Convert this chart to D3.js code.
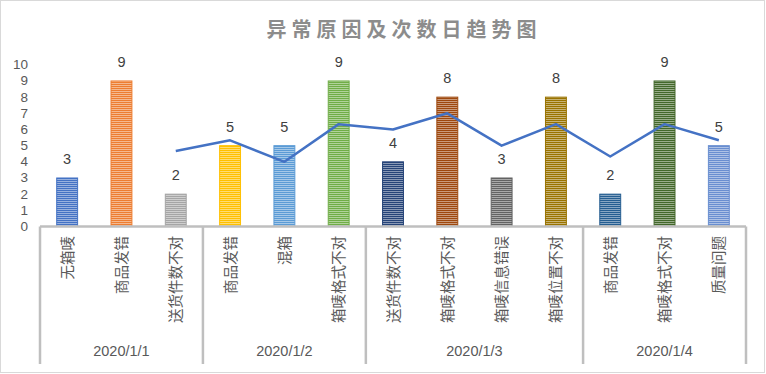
<!DOCTYPE html>
<html>
<head>
<meta charset="utf-8">
<script src="https://cdn.jsdelivr.net/npm/d3@7"></script>
<style>
  body { margin: 0; background: #fff; }
  svg { display: block; font-family: "Noto Sans CJK SC", "Noto Sans", sans-serif; }
</style>
</head>
<body>
<div class="chartContainer"></div>
<script>
// chart data
const dates = ["2020/1/1", "2020/1/2", "2020/1/3", "2020/1/4"];
const groupSizes = [3, 3, 4, 3];
const reasons = [
  "无箱唛", "商品发错", "送货件数不对",
  "商品发错", "混箱", "箱唛格式不对",
  "送货件数不对", "箱唛格式不对", "箱唛信息错误", "箱唛位置不对",
  "商品发错", "箱唛格式不对", "质量问题"
];
const counts = [3, 9, 2, 5, 5, 9, 4, 8, 3, 8, 2, 9, 5];
// trend line, starts at the third category
const trendStart = 2;
const trendValues = [4.67, 5.33, 4, 6.33, 6, 7, 5, 6.33, 4.33, 6.33, 5.33];
const yTicks = [0, 1, 2, 3, 4, 5, 6, 7, 8, 9, 10];
const barColors = [
  "#4472C4", "#ED7D31", "#A5A5A5", "#FFC000", "#5B9BD5", "#70AD47",
  "#264478", "#9E480E", "#636363", "#997300", "#255E91", "#43682B", "#698ED0"
];

const w = 766;
const h = 374;
const left = 40;
const right = 746;
const base = 226.5;

const svg = d3
  .select(".chartContainer")
  .append("svg")
  .attr("width", w)
  .attr("height", h);

svg
  .append("rect")
  .attr("x", 0.5)
  .attr("y", 0.5)
  .attr("width", w - 2)
  .attr("height", h - 2)
  .attr("fill", "#fff")
  .attr("stroke", "#d9d9d9");

// striped fills
const defs = svg.append("defs");
barColors.forEach((c, i) => {
  const p = defs
    .append("pattern")
    .attr("id", "stripe" + i)
    .attr("patternUnits", "userSpaceOnUse")
    .attr("width", 4)
    .attr("height", 2);
  p.append("rect").attr("width", 4).attr("height", 2).attr("fill", c);
  p.append("rect")
    .attr("y", 1)
    .attr("width", 4)
    .attr("height", 1)
    .attr("fill", d3.interpolateRgb(c, "#fff")(0.45));
});

svg
  .append("text")
  .attr("x", 404)
  .attr("y", 28)
  .attr("text-anchor", "middle")
  .attr("dominant-baseline", "central")
  .attr("fill", "#8c8c8c")
  .style("font-size", "20px")
  .style("font-weight", "bold")
  .style("letter-spacing", "5px")
  .text("异常原因及次数日趋势图");

const xScale = d3
  .scaleBand()
  .domain(d3.range(reasons.length))
  .range([left, right]);

const yScale = d3.scaleLinear().domain([0, 10]).range([base, 64.8]);

const barW = xScale.bandwidth() * 0.385;

// y labels
svg
  .append("g")
  .selectAll("text")
  .data(yTicks)
  .enter()
  .append("text")
  .attr("x", 28)
  .attr("y", (d) => yScale(d))
  .attr("text-anchor", "end")
  .attr("dominant-baseline", "central")
  .attr("fill", "#595959")
  .style("font-family", "'Liberation Sans', sans-serif")
  .style("font-size", "13.5px")
  .text((d) => d);

// bars
svg
  .append("g")
  .selectAll("rect")
  .data(counts)
  .enter()
  .append("rect")
  .attr("x", (d, i) => xScale(i) + (xScale.bandwidth() - barW) / 2)
  .attr("y", (d) => yScale(d))
  .attr("width", barW)
  .attr("height", (d) => base - yScale(d))
  .attr("fill", (d, i) => "url(#stripe" + i + ")")
  .attr("stroke", (d, i) => barColors[i])
  .attr("stroke-width", 1);

// value labels
svg
  .append("g")
  .selectAll("text")
  .data(counts)
  .enter()
  .append("text")
  .attr("x", (d, i) => xScale(i) + xScale.bandwidth() / 2)
  .attr("y", (d) => yScale(d) - 19)
  .attr("text-anchor", "middle")
  .attr("dominant-baseline", "central")
  .attr("fill", "#404040")
  .style("font-family", "'Liberation Sans', sans-serif")
  .style("font-size", "14.5px")
  .text((d) => d);

// trend line
const line = d3
  .line()
  .x((d, i) => xScale(i + trendStart) + xScale.bandwidth() / 2)
  .y((d) => yScale(d));

svg
  .append("path")
  .datum(trendValues)
  .attr("d", line)
  .attr("fill", "none")
  .attr("stroke", "#4472C4")
  .attr("stroke-width", 2.5)
  .attr("stroke-linejoin", "round");

// category axis
const axis = svg.append("g").attr("stroke", "#bfbfbf").attr("stroke-width", 2.5);
axis
  .append("line")
  .attr("x1", left)
  .attr("x2", right)
  .attr("y1", base)
  .attr("y2", base);

let bounds = [0];
groupSizes.forEach((n) => bounds.push(bounds[bounds.length - 1] + n));
const boundX = (k) => (k < reasons.length ? xScale(k) : right);

axis
  .selectAll(".sep")
  .data(bounds)
  .enter()
  .append("line")
  .attr("class", "sep")
  .attr("x1", (d) => boundX(d))
  .attr("x2", (d) => boundX(d))
  .attr("y1", base)
  .attr("y2", 364);

svg
  .append("g")
  .selectAll("text")
  .data(reasons)
  .enter()
  .append("text")
  .attr(
    "transform",
    (d, i) =>
      "translate(" + (xScale(i) + xScale.bandwidth() / 2 - 1) + ",236)rotate(-90)"
  )
  .attr("text-anchor", "end")
  .attr("dominant-baseline", "central")
  .attr("fill", "#595959")
  .style("font-size", "14.5px")
  .text((d) => d);

svg
  .append("g")
  .selectAll("text")
  .data(dates)
  .enter()
  .append("text")
  .attr("x", (d, i) => (boundX(bounds[i]) + boundX(bounds[i + 1])) / 2)
  .attr("y", 351)
  .attr("text-anchor", "middle")
  .attr("dominant-baseline", "central")
  .attr("fill", "#595959")
  .style("font-family", "'Liberation Sans', sans-serif")
  .style("font-size", "14.5px")
  .text((d) => d);
</script>
</body>
</html>
